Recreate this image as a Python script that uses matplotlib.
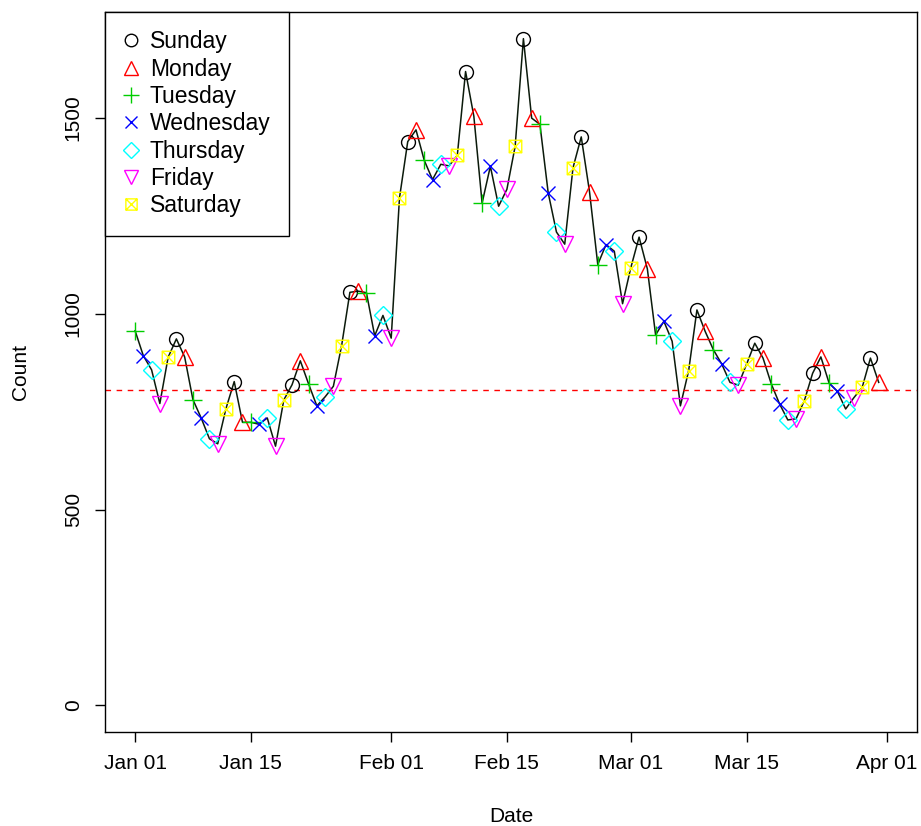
import numpy as np
import matplotlib
matplotlib.use("Agg")
import matplotlib.pyplot as plt
import matplotlib.dates as mdates
from matplotlib.path import Path
from matplotlib.lines import Line2D

plt.rcParams['font.family'] = ['Liberation Sans', 'DejaVu Sans']

# daily counts, 1 Jan 2008 .. 31 Mar 2008
start = np.datetime64('2008-01-01')
counts = [957, 893, 857, 771, 889, 936, 890, 781, 734, 681,
          668, 758, 827, 723, 723, 718, 734, 662, 780, 819,
          880, 821, 765, 788, 815, 919, 1055, 1058, 1054, 944,
          996, 938, 1296, 1440, 1470, 1392, 1343, 1382, 1378, 1405,
          1619, 1505, 1283, 1377, 1275, 1318, 1428, 1703, 1500, 1484,
          1309, 1209, 1178, 1373, 1452, 1312, 1126, 1177, 1160, 1026,
          1118, 1196, 1115, 946, 981, 930, 765, 855, 1010, 955,
          908, 872, 825, 818, 871, 925, 887, 821, 770, 729,
          732, 778, 848, 890, 823, 802, 757, 786, 812, 887,
          825]
ref_level = 806

days = ['Sunday', 'Monday', 'Tuesday', 'Wednesday', 'Thursday', 'Friday', 'Saturday']
colors = ['black', 'red', '#00CD00', 'blue', 'cyan', 'magenta', 'yellow']

# square with an x in it (like R pch 7)
boxx = Path([(-1, -1), (1, -1), (1, 1), (-1, 1), (-1, -1), (-1, -1), (1, 1), (-1, 1), (1, -1)],
            [Path.MOVETO, Path.LINETO, Path.LINETO, Path.LINETO, Path.CLOSEPOLY,
             Path.MOVETO, Path.LINETO, Path.MOVETO, Path.LINETO])
markers = ['o', '^', '+', 'x', 'D', 'v', boxx]
sizes = [10, 11, 13, 10, 9, 11, 9]

dates = start + np.arange(len(counts))
dts = dates.astype('datetime64[D]').astype(object)
counts = np.array(counts)
# weekday index with Sunday = 0
wd = np.array([(d.weekday() + 1) % 7 for d in dts])

fig = plt.figure(figsize=(9.21, 8.26), dpi=100)
ax = fig.add_axes([0.114, 0.1138, 0.8817, 0.8717])

ax.plot(dts, counts, color='#0b1a0b', lw=1.1, zorder=2)
handles = []
for k in range(7):
    sel = wd == k
    ax.plot(dates[sel].astype(object), counts[sel], linestyle='none', marker=markers[k],
            ms=sizes[k], mfc='none', mec=colors[k], mew=1.0, zorder=3)
    handles.append(Line2D([], [], linestyle='none', marker=markers[k], ms=sizes[k] * 0.9,
                          mfc='none', mec=colors[k], mew=1.0))

ax.axhline(ref_level, color='red', ls=(0, (4, 4)), lw=1.0)

x0 = mdates.date2num(np.datetime64('2008-01-01'))
x1 = mdates.date2num(np.datetime64('2008-04-01'))
pad = 0.04 * (x1 - x0)
ax.set_xlim(x0 - pad, x1 + pad)
ymax = counts.max()
ax.set_ylim(-0.04 * ymax, ymax * 1.04)

tick_dates = ['2008-01-01', '2008-01-15', '2008-02-01', '2008-02-15',
              '2008-03-01', '2008-03-15', '2008-04-01']
ax.set_xticks([mdates.date2num(np.datetime64(t)) for t in tick_dates])
ax.xaxis.set_major_formatter(mdates.DateFormatter('%b %d'))
ax.set_yticks([0, 500, 1000, 1500])
ax.tick_params(direction='out', length=7, width=1, labelsize=15, pad=9)
for lab in ax.get_yticklabels():
    lab.set_rotation(90)
    lab.set_va('center')
for s in ax.spines.values():
    s.set_linewidth(1.0)

ax.set_xlabel('Date', fontsize=15, labelpad=24)
ax.set_ylabel('Count', fontsize=15, labelpad=24)

leg = ax.legend(handles, days, loc='upper left', bbox_to_anchor=(0, 1), borderaxespad=0,
                fancybox=False, edgecolor='black', framealpha=1, fontsize=16.5,
                handlelength=0.7, handletextpad=0.45, labelspacing=0.19,
                borderpad=0.8)
leg.get_frame().set_linewidth(1.0)

fig.savefig('out.png', dpi=100)
